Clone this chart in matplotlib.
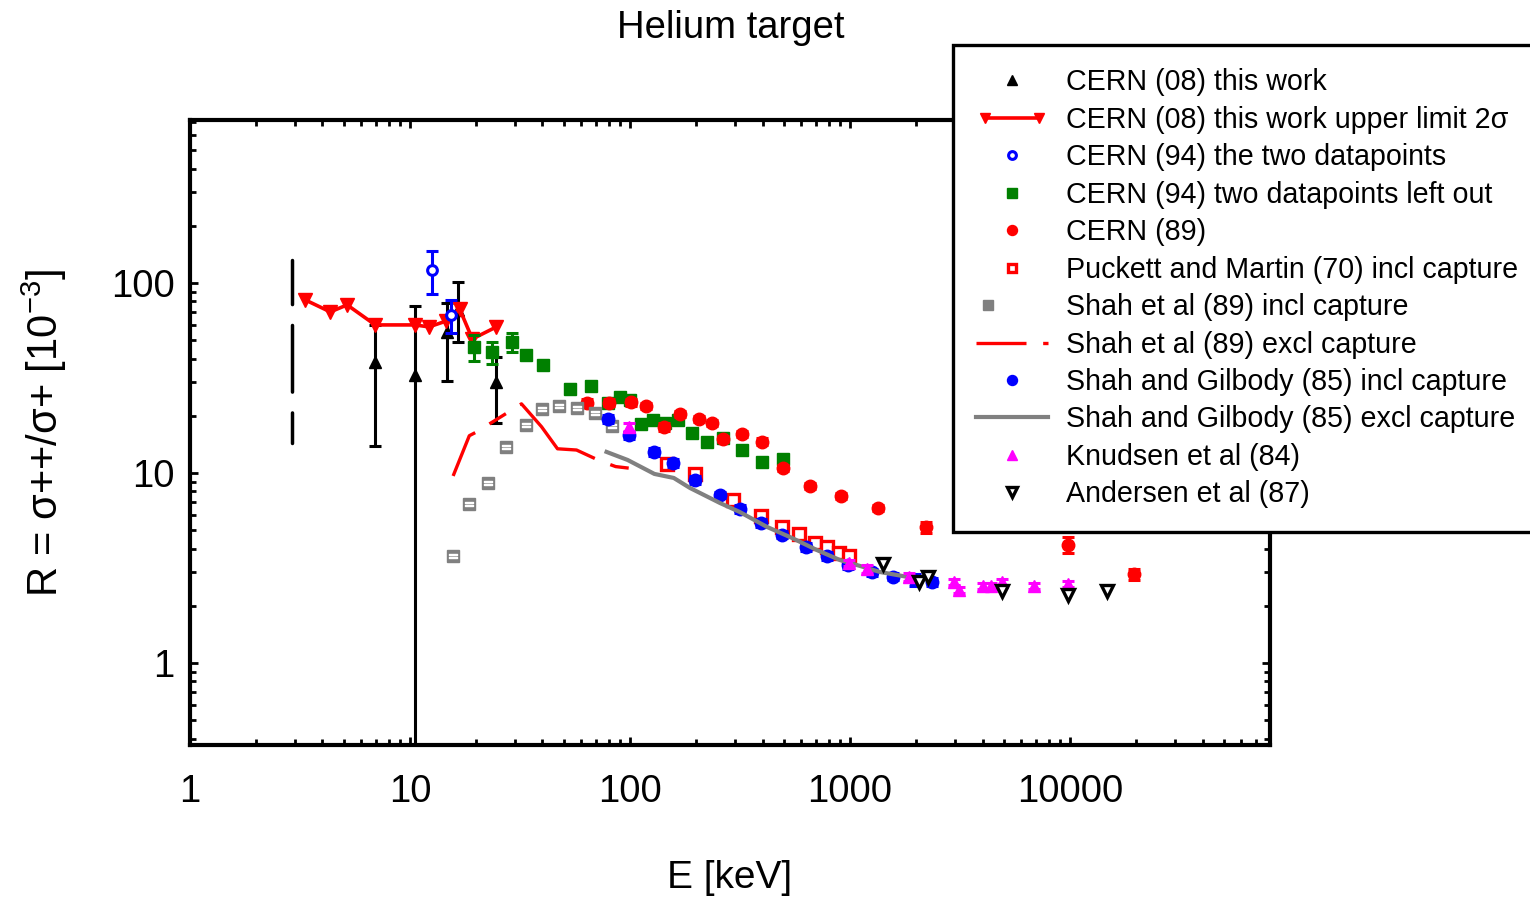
import matplotlib
matplotlib.use("Agg")
import matplotlib.pyplot as plt
from matplotlib.legend_handler import HandlerLine2D, HandlerTuple
from matplotlib.ticker import LogLocator, NullFormatter, FixedLocator, FixedFormatter

plt.rcParams['font.family'] = ['Liberation Sans', 'DejaVu Sans']
plt.rcParams['lines.scale_dashes'] = False

# ---------------- data (E in keV, R in units of 1e-3) ----------------
# CERN (08) this work
cern08_E = [6.95, 10.5, 14.8, 16.6, 24.7]
cern08_R = [38.4, 32.8, 55.2, 72.0, 30.1]
cern08_lo = [13.9, 0.01, 30.5, 48.9, 18.3]
cern08_hi = [60.0, 75.7, 78.5, 101.0, 40.8]
# range at the lowest energy
cern08_band_E = [2.91, 2.91]
cern08_band_R = [14.4, 132.0]

# CERN (08) upper limit 2 sigma
limit_E = [3.34, 4.34, 5.18, 6.95, 10.5, 12.2, 14.6, 16.8, 19.2, 24.7]
limit_R = [81.4, 70.4, 76.6, 60.1, 60.1, 58.7, 63.0, 73.0, 50.7, 58.7]

# CERN (94) the two datapoints
cern94a_E = [12.6, 15.4]
cern94a_R = [117.0, 67.9]
cern94a_lo = [87.5, 54.6]
cern94a_hi = [147.0, 81.4]

# CERN (94) two datapoints left out
cern94b_E = [19.6, 23.7, 29.2, 33.8, 40.4, 53.1, 66.2, 79.1, 89.7, 99.6,
             112, 127, 144, 165, 191, 223, 264, 322, 397, 495]
cern94b_R = [46.0, 43.3, 48.9, 41.8, 37.0, 27.7, 28.7, 23.4, 25.1, 24.2,
             18.1, 19.0, 18.3, 19.0, 16.2, 14.6, 15.3, 13.2, 11.4, 11.9]
cern94b_err = [7.0, 5.7, 5.6, 1.7, 1.5, 1.5, 1.5, 1.0, 1.0, 1.0,
               0.8, 0.8, 0.8, 0.8, 0.6, 0.6, 0.6, 0.5, 0.5, 0.5]

# CERN (89)
cern89_E = [63.5, 80, 100.6, 118, 142, 168, 205, 235, 264, 322, 397, 495,
            656, 909, 1340, 2214, 9820, 19600]
cern89_R = [23.4, 23.4, 23.6, 22.5, 17.5, 20.4, 19.2, 18.3, 15.1, 16.0, 14.6, 10.6,
            8.54, 7.57, 6.54, 5.2, 4.18, 2.94]
cern89_err = [1.2, 1.0, 1.0, 0.9, 0.8, 0.8, 0.7, 0.7, 0.6, 0.6, 0.6, 0.4,
              0.3, 0.3, 0.25, 0.35, 0.4, 0.2]

# Puckett and Martin (70) incl capture
puckett_E = [147, 197, 293, 393, 490, 585, 692, 785, 890, 988]
puckett_R = [11.2, 9.88, 7.21, 5.94, 5.2, 4.77, 4.28, 4.08, 3.79, 3.66]

# Shah et al (89) incl / excl capture
shah_in_E = [15.7, 18.6, 22.5, 27.4, 33.5, 39.6, 47.3, 57.1, 69.0, 82.5]
shah_in_R = [3.66, 6.87, 8.86, 13.7, 17.9, 21.7, 22.5, 22.0, 20.7, 17.7]
shah_ex_E = [15.7, 18.6, 20.0, 28.0, 32.1, 39.6, 46.8, 57.1, 72.7, 86.0, 98.6]
shah_ex_R = [9.64, 15.7, 16.4, 20.9, 23.1, 17.5, 13.4, 13.2, 11.6, 10.8, 10.6]

# Shah and Gilbody (85) incl / excl capture
sg_in_E = [79.1, 98.6, 128, 156, 197, 256, 315, 393, 490, 630, 785, 978,
           1259, 1568, 1973, 2360]
sg_in_R = [19.2, 15.8, 12.9, 11.3, 9.19, 7.66, 6.47, 5.46, 4.72, 4.08, 3.66, 3.28,
           3.01, 2.84, 2.73, 2.67]
sg_in_err = [0.9, 0.7, 0.6, 0.5, 0.4, 0.3, 0.3, 0.25, 0.2, 0.18, 0.16, 0.14,
             0.13, 0.12, 0.2, 0.12]
sg_ex_E = [78.2, 97.5, 129, 158, 187, 256, 315, 419, 544, 706, 899, 1109, 1368, 1815]
sg_ex_R = [12.9, 11.7, 9.88, 9.41, 8.34, 6.95, 6.23, 5.2, 4.55, 3.93, 3.48, 3.24, 3.01, 2.84]

# Knudsen et al (84)
knudsen_E = [98.6, 988, 1194, 1854, 2972, 3133, 4027, 4378, 4913, 6870, 9820]
knudsen_R = [17.5, 3.36, 3.12, 2.84, 2.67, 2.42, 2.54, 2.54, 2.67, 2.54, 2.61]
knudsen_err = [0.8, 0.12, 0.15, 0.15, 0.1, 0.1, 0.1, 0.1, 0.1, 0.08, 0.1]

# Andersen et al (87)
andersen_E = [1413, 2059, 2263, 4913, 9820, 14760]
andersen_R = [3.32, 2.67, 2.84, 2.39, 2.28, 2.39]

labels = [
    "CERN (08) this work",
    "CERN (08) this work upper limit 2\u03c3",
    "CERN (94) the two datapoints",
    "CERN (94) two datapoints left out",
    "CERN (89)",
    "Puckett and Martin (70) incl capture",
    "Shah et al (89) incl capture",
    "Shah et al (89) excl capture",
    "Shah and Gilbody (85) incl capture",
    "Shah and Gilbody (85) excl capture",
    "Knudsen et al (84)",
    "Andersen et al (87)",
]

RED = '#ff0000'
GREEN = '#008000'
BLUE = '#0000ff'
GRAY = '#808080'
MAGENTA = '#ff00ff'


def asym(vals, lo, hi):
    return [[v - l for v, l in zip(vals, lo)], [h - v for v, h in zip(vals, hi)]]


fig = plt.figure(figsize=(15.3, 9.0), dpi=100)
ax = fig.add_axes([190 / 1530, 1 - 745 / 900, 1080 / 1530, 625 / 900])
ax.set_xscale('log')
ax.set_yscale('log')

ebkw = dict(fmt='none', capsize=4, capthick=2.2, elinewidth=2.2)

# CERN (08) this work
ax.errorbar(cern08_E, cern08_R, yerr=asym(cern08_R, cern08_lo, cern08_hi),
            ecolor='black', **ebkw, zorder=2)
h_c08, = ax.plot(cern08_E, cern08_R, ls='none', marker='^', ms=9, color='black', zorder=2)
ax.plot(cern08_band_E, cern08_band_R, color='black', lw=2.5,
        linestyle=(26, (48, 15)), dash_capstyle='round', zorder=2)

# upper limit
h_lim, = ax.plot(limit_E, limit_R, color=RED, lw=2.6, marker='v', ms=9.5, zorder=3)

# CERN (94)
ax.errorbar(cern94a_E, cern94a_R, yerr=asym(cern94a_R, cern94a_lo, cern94a_hi),
            ecolor=BLUE, **ebkw, zorder=4)
h_94a, = ax.plot(cern94a_E, cern94a_R, ls='none', marker='o', ms=7, mfc='white',
                 mec=BLUE, mew=2.2, zorder=4)
ax.errorbar(cern94b_E, cern94b_R, yerr=cern94b_err, ecolor=GREEN, **ebkw, zorder=4)
h_94b, = ax.plot(cern94b_E, cern94b_R, ls='none', marker='s', ms=9, color=GREEN, zorder=4)

# CERN (89)
ax.errorbar(cern89_E, cern89_R, yerr=cern89_err, ecolor=RED, **ebkw, zorder=5)
h_89, = ax.plot(cern89_E, cern89_R, ls='none', marker='o', ms=9, color=RED, zorder=5)

# Puckett and Martin
h_puck, = ax.plot(puckett_E, puckett_R, ls='none', marker='s', ms=8, mfc='white',
                  mec=RED, mew=2.4, zorder=5)

# Shah et al
h_sh1, = ax.plot(shah_in_E, shah_in_R, ls='none', marker='s', ms=8.5, color=GRAY, zorder=5)
h_sh2, = ax.plot(shah_in_E, shah_in_R, ls='none', marker='$=$', ms=6, color='white', zorder=5)
h_shex, = ax.plot(shah_ex_E, shah_ex_R, color=RED, lw=2.4,
                  linestyle=(35, (71, 12, 14, 12)), zorder=5)

# Shah and Gilbody
ax.errorbar(sg_in_E, sg_in_R, yerr=sg_in_err, ecolor=BLUE, **ebkw, zorder=6)
h_sgin, = ax.plot(sg_in_E, sg_in_R, ls='none', marker='o', ms=9, color=BLUE, zorder=6)
h_sgex, = ax.plot(sg_ex_E, sg_ex_R, color=GRAY, lw=3, zorder=6)

# Knudsen
ax.errorbar(knudsen_E, knudsen_R, yerr=knudsen_err, ecolor=MAGENTA, **ebkw, zorder=7)
h_kn, = ax.plot(knudsen_E, knudsen_R, ls='none', marker='^', ms=9, color=MAGENTA, zorder=7)

# Andersen
h_and, = ax.plot(andersen_E, andersen_R, ls='none', marker='v', ms=8.5, mfc='white',
                 mec='black', mew=2.4, zorder=8)

# ---------------- axes styling ----------------
ax.set_xlim(1, 8.1e4)
ax.set_ylim(0.37, 720)
for sp in ax.spines.values():
    sp.set_linewidth(3)

ax.xaxis.set_major_locator(FixedLocator([1, 10, 100, 1000, 10000]))
ax.xaxis.set_major_formatter(FixedFormatter(['1', '10', '100', '1000', '10000']))
ax.yaxis.set_major_locator(FixedLocator([1, 10, 100]))
ax.yaxis.set_major_formatter(FixedFormatter(['1', '10', '100']))
ax.xaxis.set_minor_locator(LogLocator(base=10, subs=range(2, 10), numticks=20))
ax.yaxis.set_minor_locator(LogLocator(base=10, subs=range(2, 10), numticks=20))
ax.xaxis.set_minor_formatter(NullFormatter())
ax.yaxis.set_minor_formatter(NullFormatter())
ax.tick_params(which='both', direction='in', top=True, right=True, width=2)
ax.tick_params(which='major', length=6)
ax.tick_params(which='minor', length=4)
ax.tick_params(axis='x', which='major', labelsize=27.5, pad=21)
ax.tick_params(axis='y', which='major', labelsize=27.5, pad=11)

ax.set_xlabel("E [keV]", fontsize=28, labelpad=36)
ax.set_ylabel(r"R = σ++/σ+ [10$^{\mathregular{-3}}$]", fontsize=30, labelpad=30)
fig.text(731 / 1530, 1 - 28 / 900, "Helium target", fontsize=27.5, ha='center', va='center')

# ---------------- legend ----------------
handles = [h_c08, h_lim, h_94a, h_94b, h_89, h_puck, (h_sh1, h_sh2), h_shex,
           h_sgin, h_sgex, h_kn, h_and]
leg = fig.legend(handles, labels, loc='upper left',
                 bbox_to_anchor=(953 / 1530, 1 - 45 / 900), bbox_transform=fig.transFigure,
                 borderaxespad=0, frameon=True, fancybox=False, framealpha=1,
                 edgecolor='black', fontsize=20.6, labelspacing=0.33, handlelength=2.5,
                 handletextpad=0.63, borderpad=0.82, markerscale=0.8,
                 handler_map={h_lim: HandlerLine2D(numpoints=2),
                              tuple: HandlerTuple(ndivide=None)})
leg.get_frame().set_linewidth(2.4)

fig.savefig("out.png", dpi=100)
